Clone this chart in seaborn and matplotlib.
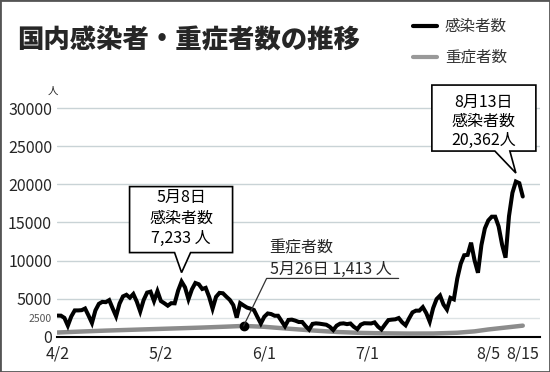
import pandas as pd
import matplotlib.pyplot as plt
import matplotlib.dates as mdates
from matplotlib.patches import Polygon, Rectangle
from matplotlib.lines import Line2D
from matplotlib.transforms import IdentityTransform
import seaborn as sns

# daily new cases, 2021-04-02 .. 2021-08-15
start_date = "2021-04-02"
cases_apr = [2770, 2760, 2470, 1450, 2660, 3450, 3450, 3480, 3700, 2780, 1800, 3450, 4310, 4570,
             4530, 4800, 3720, 2680, 4340, 5290, 5500, 5120, 5600, 4610, 3310, 4820, 5790, 5910, 4680]
cases_may = [5970, 4680, 4390, 4070, 4400, 4380, 6050, 7233, 6480, 4920, 6210, 7050, 6880, 6260,
             6410, 5230, 3680, 5230, 5750, 5700, 5250, 4830, 4150, 2500, 4400, 4100, 3820, 3680,
             3500, 2590, 1730]
cases_jun = [2620, 3050, 2970, 2750, 2750, 2070, 1370, 2200, 2240, 2110, 1930, 1930, 1390, 930,
             1680, 1750, 1710, 1640, 1570, 1300, 870, 1450, 1710, 1750, 1650, 1730, 1290, 990,
             1580, 1770]
cases_jul = [1750, 1740, 1880, 1320, 950, 1580, 2180, 2240, 2280, 2450, 1890, 1500, 2390, 3190,
             3420, 3420, 3880, 3100, 1980, 3760, 4940, 5400, 4220, 3570, 5100, 4900, 7630, 9580,
             10690, 10740, 12340]
cases_aug = [10040, 8390, 12020, 14210, 15260, 15750, 15750, 14470, 12080, 10370, 15810, 18890,
             20362, 20150, 18400]

# severe cases, read at a few dates
severe_dates = ["2021-04-02", "2021-04-09", "2021-04-16", "2021-04-23", "2021-04-30",
                "2021-05-07", "2021-05-14", "2021-05-21", "2021-05-26", "2021-06-01",
                "2021-06-08", "2021-06-15", "2021-06-22", "2021-06-29", "2021-07-06",
                "2021-07-13", "2021-07-20", "2021-07-27", "2021-08-01", "2021-08-05",
                "2021-08-10", "2021-08-15"]
severe = [550, 680, 800, 900, 1000, 1100, 1200, 1320, 1413, 1300, 1050, 820, 620, 500, 440,
          410, 420, 520, 700, 950, 1200, 1450]

x_label_dates = ["2021-04-02", "2021-05-02", "2021-06-01", "2021-07-01", "2021-08-05", "2021-08-15"]
x_labels = ["4/2", "5/2", "6/1", "7/1", "8/5", "8/15"]
y_ticks = [0, 2500, 5000, 10000, 15000, 20000, 25000, 30000]

cases = cases_apr + cases_may + cases_jun + cases_jul + cases_aug
df_cases = pd.DataFrame({"date": pd.date_range(start_date, periods=len(cases)), "value": cases})
df_severe = pd.DataFrame({"date": pd.to_datetime(severe_dates), "value": severe})

sns.set_style("white")
plt.rcParams['font.family'] = ['Noto Sans CJK JP', 'DejaVu Sans']

W, H = 550, 372
fig = plt.figure(figsize=(W / 100, H / 100), dpi=100)
ax = fig.add_axes([57.5 / W, 35.3 / H, 482.5 / W, 236.2 / H])

sns.lineplot(data=df_severe, x="date", y="value", ax=ax, color="#8c8c8c", lw=3.2, zorder=2)
sns.lineplot(data=df_cases, x="date", y="value", ax=ax, color="black", lw=2.9, zorder=3,
             solid_joinstyle="miter")

x0 = pd.Timestamp(start_date)
ax.set_xlim(x0, x0 + pd.Timedelta(days=140))
ax.set_ylim(0, 31000)
ax.set_xlabel("")
ax.set_ylabel("")

# x ticks every 5 days, labels only on some
tick_dates = pd.date_range(start_date, "2021-08-15", freq="5D")
label_map = dict(zip(pd.to_datetime(x_label_dates), x_labels))
ax.set_xticks(tick_dates)
ax.set_xticklabels([label_map.get(d, "") for d in tick_dates], fontsize=11.5)
ax.tick_params(axis="x", direction="out", length=5, width=1.3, color="black", pad=1)

ax.set_yticks(y_ticks)
ax.set_yticklabels([f"{v}" for v in y_ticks], fontsize=11.5)
ax.tick_params(axis="y", length=0, pad=4)
for lab, v in zip(ax.get_yticklabels(), y_ticks):
    if v == 2500:
        lab.set_fontsize(7.5)
        lab.set_color("#555555")

for v in y_ticks[1:]:
    ax.axhline(v, color="#c9d3d6" if v != 2500 else "#dde3e5", lw=1, zorder=1)

for s in ["left", "top", "right"]:
    ax.spines[s].set_visible(False)
ax.spines["bottom"].set_color("black")
ax.spines["bottom"].set_linewidth(1.5)

# marker for severe count on 5/26
sev_day = pd.Timestamp("2021-05-26")
sev_val = severe[severe_dates.index("2021-05-26")]
ax.plot([sev_day], [sev_val], "o", color="black", ms=6, zorder=5)

fig.canvas.draw()
idt = IdentityTransform()


def to_px(date, value):
    return ax.transData.transform((mdates.date2num(date), value))


def callout(tip, left, right, bottom, top, b0, b1, lines, cy, step):
    tx, ty = tip
    verts = [(tx + b0, ty + bottom), (tx + left, ty + bottom), (tx + left, ty + top),
             (tx + right, ty + top), (tx + right, ty + bottom), (tx + b1, ty + bottom), (tx, ty)]
    fig.patches.append(Polygon(verts, closed=True, facecolor="white", edgecolor="black",
                               lw=1.2, transform=idt, figure=fig, zorder=6))
    cx = tx + (left + right) / 2
    for i, t in enumerate(lines):
        fig.text(cx, ty + cy - i * step, t, transform=idt, ha="center", va="center",
                 fontsize=11.5, color="black", zorder=7)


# 5/8 callout
d1 = pd.Timestamp("2021-05-08")
px1 = to_px(d1, cases[(d1 - x0).days])
callout((px1[0], px1[1] + 9), -52, 51, 20, 86, -7, 9,
        ["5月8日", "感染者数", "7,233 人"], 75, 20.5)

# 8/13 callout
d2 = pd.Timestamp("2021-08-13")
px2 = to_px(d2, cases[(d2 - x0).days])
callout((px2[0], px2[1] + 8.5), -84, 20, 22, 88, -21, -6,
        ["8月13日", "感染者数", "20,362人"], 71, 19)

# severe label with leader line
ps = to_px(sev_day, sev_val)
fig.lines.append(Line2D([ps[0], ps[0] + 23, ps[0] + 155], [ps[1], ps[1] + 47.5, ps[1] + 47.5],
                        color="#333333", lw=0.9, transform=idt, figure=fig))
fig.text(ps[0] + 26, ps[1] + 78, "重症者数", transform=idt, ha="left", va="center", fontsize=11.5)
fig.text(ps[0] + 26, ps[1] + 56, "5月26日 1,413 人", transform=idt, ha="left", va="center",
         fontsize=11.5)

# unit
fig.text(53 / W, 1 - 91 / H, "人", ha="center", va="center", fontsize=7.5)

# title and legend
fig.text(17 / W, 1 - 40 / H, "国内感染者・重症者数の推移", ha="left", va="center",
         fontsize=19, fontweight="heavy")
fig.lines.append(Line2D([413 / W, 437 / W], [1 - 26 / H, 1 - 26 / H], color="black", lw=3,
                        transform=fig.transFigure, figure=fig))
fig.lines.append(Line2D([413 / W, 437 / W], [1 - 57 / H, 1 - 57 / H], color="#999999", lw=3,
                        transform=fig.transFigure, figure=fig))
fig.text(445 / W, 1 - 26 / H, "感染者数", ha="left", va="center", fontsize=11.2, color="#333333")
fig.text(445 / W, 1 - 57 / H, "重症者数", ha="left", va="center", fontsize=11.2, color="#333333")

fig.patches.append(Rectangle((0, 0), 1, 1, transform=fig.transFigure, fill=False,
                             edgecolor="#555555", lw=2, figure=fig))

fig.savefig("out.png", dpi=100)
